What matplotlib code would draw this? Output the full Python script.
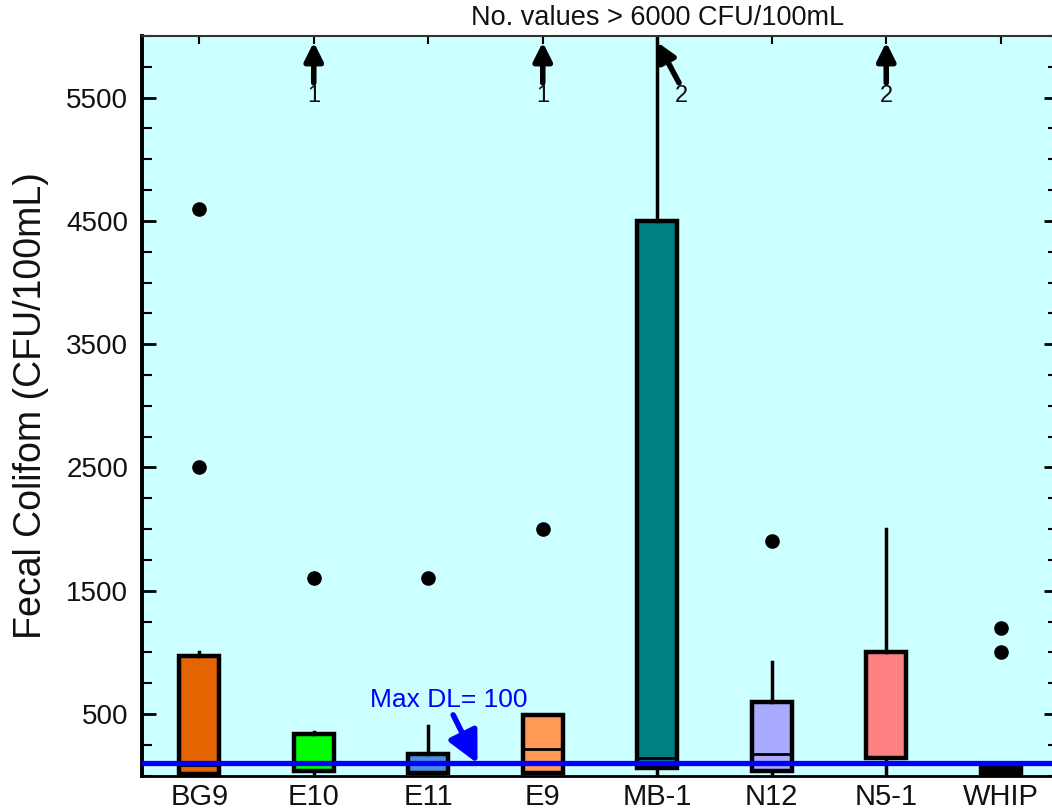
import matplotlib
matplotlib.use("Agg")
import matplotlib.pyplot as plt
from matplotlib.ticker import MultipleLocator, FixedLocator

plt.rcParams["font.family"] = ["Liberation Sans", "DejaVu Sans"]

# ── Data ───────────────────────────────────────────────────
sites   = ["BG9", "E10", "E11", "E9", "MB-1", "N12", "N5-1", "WHIP"]
q1      = [15, 40, 25, 20, 60, 40, 140, 10]
median  = [90, 100, 100, 220, 140, 180, 140, 30]
q3      = [970, 340, 180, 490, 4500, 600, 1000, 70]
whis_lo = [10, 10, 20, 20, 10, 10, 10, 10]
whis_hi = [1000, 355, 400, 490, 6500, 920, 2000, 70]
fliers  = [[2500, 4600], [1600], [1600], [2000], [], [1900], [], [1000, 1200]]
colors  = ["#e36400", "#00ff00", "#4a8fe0", "#ff9955", "#008080",
           "#aaaaff", "#ff8080", "#000000"]

over_sites  = ["E10", "E9", "MB-1", "N5-1"]
over_counts = [1, 1, 2, 2]
max_dl = 100

# ── Figure ─────────────────────────────────────────────────
fig = plt.figure(figsize=(10.52, 8.09), dpi=100)
ax = fig.add_axes([142 / 1052, 1 - 775.7 / 809, 916 / 1052, (775.7 - 36) / 809])
ax.set_facecolor("#ccffff")

pos = list(range(1, len(sites) + 1))
stats = [dict(q1=a, med=m, q3=b, whislo=lo, whishi=hi, fliers=f, label=s)
         for s, a, m, b, lo, hi, f in zip(sites, q1, median, q3, whis_lo, whis_hi, fliers)]
bp = ax.bxp(stats, positions=pos, widths=0.35, patch_artist=True, showcaps=False,
            boxprops=dict(linewidth=3.2, edgecolor="black"),
            whiskerprops=dict(linewidth=2.5, color="black"),
            medianprops=dict(linewidth=2, color="black"),
            flierprops=dict(marker="o", markersize=9.5, markerfacecolor="black",
                            markeredgecolor="black"))
for patch, c in zip(bp["boxes"], colors):
    patch.set_facecolor(c)

# detection-limit line
ax.axhline(max_dl, color="#0000ff", lw=3.8, zorder=5)
ax.annotate("Max DL= 100", xy=(3.43, max_dl), xytext=(2.49, 613),
            color="#0000ff", fontsize=19, va="center", ha="left",
            arrowprops=dict(arrowstyle="-|>,head_length=1.0,head_width=0.5",
                            color="#0000ff", lw=4, shrinkA=0, shrinkB=0,
                            relpos=(0.52, 0.0)),
            zorder=6)

# values above the axis
for s, n in zip(over_sites, over_counts):
    x = sites.index(s) + 1
    dx = 0.19 if s == "MB-1" else 0.0
    ax.annotate("", xy=(x, 5950), xytext=(x + dx, 5620),
                arrowprops=dict(arrowstyle="-|>,head_length=1.1,head_width=0.55",
                                color="black", lw=4, shrinkA=0, shrinkB=0))
    ax.text(x + dx * 1.1, 5510, str(n), fontsize=17, ha="center", va="center",
            color="#111111")

ax.text(5, 6040, "No. values > 6000 CFU/100mL", fontsize=19.5, ha="center",
        va="bottom", color="#111111", clip_on=False)

# ── Axes styling ───────────────────────────────────────────
ax.set_xlim(0.5, 8.5)
ax.set_ylim(0, 6000)
ax.set_xticks(pos)
ax.set_xticklabels(sites, fontsize=21, color="#111111")
ax.tick_params(axis="x", which="both", bottom=False, top=True, direction="in",
               length=6, width=1.5, pad=5)
ax.yaxis.set_major_locator(FixedLocator([500, 1500, 2500, 3500, 4500, 5500]))
ax.yaxis.set_minor_locator(MultipleLocator(250))
ax.tick_params(axis="y", which="major", direction="in", left=True, right=True,
               length=10, width=2, labelsize=20, labelcolor="#111111", pad=10)
ax.tick_params(axis="y", which="minor", direction="in", left=True, right=True,
               length=7, width=1.5)
ax.set_ylabel("Fecal Colifom (CFU/100mL)", fontsize=27, color="#111111", labelpad=12)

ax.spines["left"].set_linewidth(2.8)
ax.spines["bottom"].set_linewidth(2)
ax.spines["top"].set_linewidth(1.5)
ax.spines["top"].set_color("#333333")

fig.savefig("out.png", dpi=100)
